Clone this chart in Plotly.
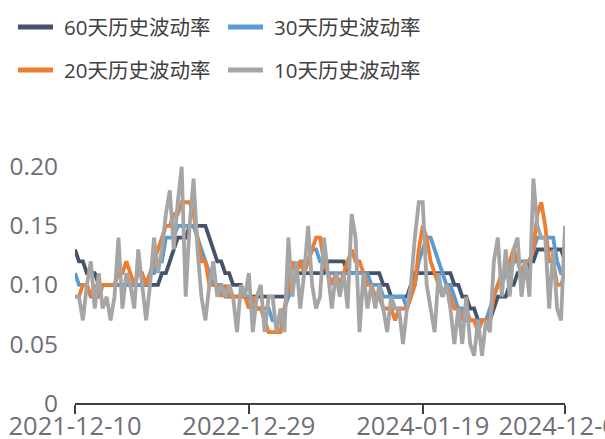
import plotly.graph_objects as go

# Observation index (trading-day sampled) and the dates shown on the axis
n_points = 125
obs_index = list(range(n_points))
tick_positions = [0, 44, 88, 124]
tick_labels = ["2021-12-10", "2022-12-29", "2024-01-19", "2024-12-06"]

vol_60d = [
    0.13, 0.12, 0.12, 0.11, 0.11, 0.11, 0.10, 0.10, 0.10, 0.10,
    0.10, 0.10, 0.10, 0.10, 0.10, 0.10, 0.10, 0.10, 0.10, 0.10,
    0.10, 0.10, 0.11, 0.11, 0.12, 0.13, 0.14, 0.14, 0.14, 0.15,
    0.15, 0.15, 0.15, 0.15, 0.14, 0.13, 0.12, 0.12, 0.11, 0.11,
    0.10, 0.10, 0.10, 0.09, 0.09, 0.09, 0.09, 0.09, 0.09, 0.09,
    0.09, 0.09, 0.09, 0.09, 0.09, 0.10, 0.11, 0.11, 0.11, 0.11,
    0.11, 0.11, 0.11, 0.11, 0.12, 0.12, 0.12, 0.12, 0.12, 0.11,
    0.11, 0.11, 0.11, 0.11, 0.11, 0.11, 0.11, 0.11, 0.10, 0.10,
    0.09, 0.09, 0.09, 0.09, 0.09, 0.10, 0.11, 0.11, 0.11, 0.11,
    0.11, 0.11, 0.11, 0.11, 0.11, 0.11, 0.10, 0.10, 0.09, 0.09,
    0.08, 0.08, 0.07, 0.07, 0.07, 0.07, 0.08, 0.09, 0.09, 0.09,
    0.10, 0.10, 0.11, 0.11, 0.11, 0.12, 0.12, 0.13, 0.13, 0.13,
    0.13, 0.13, 0.13, 0.13, 0.12,
]

vol_30d = [
    0.11, 0.10, 0.10, 0.10, 0.09, 0.09, 0.09, 0.10, 0.10, 0.10,
    0.10, 0.10, 0.10, 0.10, 0.10, 0.10, 0.10, 0.10, 0.10, 0.11,
    0.11, 0.12, 0.12, 0.14, 0.14, 0.14, 0.15, 0.15, 0.15, 0.15,
    0.15, 0.14, 0.13, 0.12, 0.11, 0.10, 0.10, 0.10, 0.09, 0.09,
    0.09, 0.09, 0.09, 0.09, 0.09, 0.08, 0.08, 0.08, 0.08, 0.08,
    0.07, 0.07, 0.07, 0.08, 0.09, 0.10, 0.11, 0.12, 0.12, 0.12,
    0.13, 0.13, 0.12, 0.12, 0.11, 0.11, 0.11, 0.11, 0.11, 0.11,
    0.11, 0.11, 0.11, 0.11, 0.11, 0.10, 0.10, 0.10, 0.09, 0.09,
    0.09, 0.09, 0.09, 0.09, 0.08, 0.09, 0.10, 0.12, 0.13, 0.14,
    0.14, 0.13, 0.12, 0.11, 0.10, 0.10, 0.09, 0.08, 0.08, 0.07,
    0.07, 0.07, 0.07, 0.07, 0.07, 0.08, 0.09, 0.10, 0.10, 0.11,
    0.11, 0.12, 0.12, 0.12, 0.12, 0.12, 0.13, 0.14, 0.14, 0.14,
    0.14, 0.14, 0.12, 0.11, 0.11,
]

vol_20d = [
    0.09, 0.09, 0.10, 0.10, 0.09, 0.10, 0.09, 0.10, 0.10, 0.10,
    0.10, 0.11, 0.11, 0.12, 0.11, 0.10, 0.11, 0.11, 0.10, 0.11,
    0.12, 0.13, 0.14, 0.15, 0.15, 0.16, 0.16, 0.17, 0.17, 0.17,
    0.16, 0.14, 0.12, 0.12, 0.10, 0.10, 0.10, 0.09, 0.10, 0.09,
    0.09, 0.09, 0.09, 0.09, 0.08, 0.09, 0.08, 0.08, 0.07, 0.06,
    0.06, 0.06, 0.06, 0.08, 0.10, 0.12, 0.11, 0.12, 0.11, 0.12,
    0.13, 0.14, 0.14, 0.12, 0.11, 0.10, 0.11, 0.10, 0.11, 0.12,
    0.13, 0.12, 0.12, 0.11, 0.10, 0.10, 0.09, 0.09, 0.08, 0.08,
    0.08, 0.07, 0.08, 0.08, 0.08, 0.09, 0.10, 0.13, 0.15, 0.14,
    0.12, 0.11, 0.10, 0.09, 0.10, 0.09, 0.08, 0.08, 0.07, 0.08,
    0.07, 0.07, 0.06, 0.07, 0.07, 0.07, 0.09, 0.10, 0.11, 0.11,
    0.12, 0.13, 0.12, 0.11, 0.12, 0.12, 0.13, 0.16, 0.17, 0.15,
    0.12, 0.12, 0.10, 0.10, 0.11,
]

vol_10d = [
    0.09, 0.09, 0.07, 0.10, 0.12, 0.08, 0.11, 0.08, 0.09, 0.07,
    0.09, 0.14, 0.08, 0.11, 0.10, 0.08, 0.13, 0.10, 0.07, 0.10,
    0.14, 0.11, 0.13, 0.16, 0.18, 0.13, 0.17, 0.20, 0.09, 0.15,
    0.19, 0.13, 0.09, 0.07, 0.10, 0.12, 0.09, 0.10, 0.09, 0.10,
    0.09, 0.06, 0.10, 0.09, 0.11, 0.06, 0.09, 0.10, 0.06, 0.09,
    0.09, 0.06, 0.08, 0.06, 0.14, 0.09, 0.12, 0.08, 0.11, 0.15,
    0.10, 0.08, 0.09, 0.14, 0.11, 0.08, 0.11, 0.09, 0.11, 0.08,
    0.16, 0.14, 0.06, 0.11, 0.08, 0.10, 0.08, 0.10, 0.08, 0.06,
    0.09, 0.08, 0.08, 0.05, 0.08, 0.10, 0.14, 0.17, 0.17, 0.10,
    0.08, 0.06, 0.11, 0.09, 0.10, 0.08, 0.05, 0.08, 0.05, 0.09,
    0.05, 0.04, 0.07, 0.04, 0.07, 0.06, 0.12, 0.14, 0.09, 0.13,
    0.09, 0.13, 0.14, 0.09, 0.12, 0.09, 0.19, 0.15, 0.14, 0.14,
    0.08, 0.13, 0.08, 0.07, 0.15,
]

series_names = ["60天历史波动率", "30天历史波动率", "20天历史波动率", "10天历史波动率"]
series_values = [vol_60d, vol_30d, vol_20d, vol_10d]
series_colors = ["#44546a", "#5b9bd5", "#ed7d31", "#a5a5a5"]

FONT = "Open Sans, Noto Sans CJK SC, sans-serif"
W, H = 605, 439
M_L, M_R, M_T, M_B = 75, 40, 155, 36
plot_w = W - M_L - M_R
plot_h = H - M_T - M_B


def px_to_paper_x(px):
    return (px - M_L) / plot_w


def px_to_paper_y(py):
    return (H - M_B - py) / plot_h


fig = go.Figure()
for name, values, color in zip(series_names, series_values, series_colors):
    fig.add_trace(go.Scatter(
        x=obs_index, y=values, name=name, mode="lines",
        line=dict(color=color, width=3.8),
        showlegend=False,
    ))

# Two-row legend laid out in pixel space above the plot
legend_cols = [18, 228]
legend_rows = [27, 70]
symbol_len = 35
text_gap = 9
for k, (name, color) in enumerate(zip(series_names, series_colors)):
    x0 = legend_cols[k % 2]
    y0 = legend_rows[k // 2]
    fig.add_shape(
        type="line", xref="paper", yref="paper",
        x0=px_to_paper_x(x0), x1=px_to_paper_x(x0 + symbol_len),
        y0=px_to_paper_y(y0), y1=px_to_paper_y(y0),
        line=dict(color=color, width=5),
    )
    fig.add_annotation(
        xref="paper", yref="paper",
        x=px_to_paper_x(x0 + symbol_len + text_gap), y=px_to_paper_y(y0),
        xanchor="left", yanchor="middle", showarrow=False,
        text=name, font=dict(family=FONT, size=20.5, color="#404040"),
    )

fig.update_layout(
    width=W, height=H,
    margin=dict(l=M_L, r=M_R, t=M_T, b=M_B),
    paper_bgcolor="white", plot_bgcolor="white",
    font=dict(family=FONT, size=24, color="#6e6e78"),
    showlegend=False,
    xaxis=dict(
        range=[0, n_points - 1], automargin=False,
        tickmode="array", tickvals=tick_positions, ticktext=tick_labels,
        showgrid=False, zeroline=False,
        showline=True, linecolor="#404040", linewidth=1.5,
        ticks="outside", ticklen=9, tickwidth=1.5, tickcolor="#404040",
        ticklabelstandoff=-9, ticklabeloverflow="allow",
        tickfont=dict(family=FONT, size=25.5, color="#6e6e78"),
    ),
    yaxis=dict(
        range=[0, 0.21], automargin=False,
        tickmode="array", tickvals=[0, 0.05, 0.10, 0.15, 0.20],
        ticktext=["0", "0.05", "0.10", "0.15", "0.20"],
        showgrid=False, zeroline=False, showline=False, ticks="",
        ticklabelstandoff=16,
        tickfont=dict(family=FONT, size=24.5, color="#6e6e78"),
    ),
)

fig.write_html("out.html")
